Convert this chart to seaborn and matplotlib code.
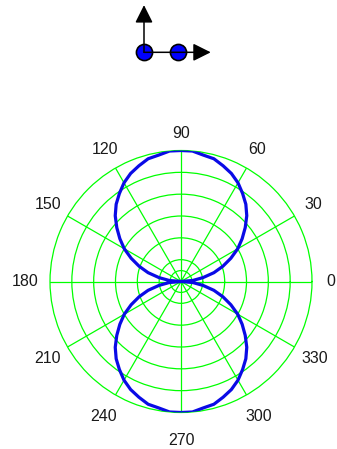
import numpy as np
import matplotlib
matplotlib.use("Agg")
import matplotlib.pyplot as plt
import seaborn as sns

# radiation pattern, read every 5 degrees
angles_deg = list(range(0, 361, 5))
radius = [0.00, 0.09, 0.17, 0.26, 0.34, 0.42, 0.50, 0.57, 0.64, 0.71, 0.77, 0.82,
          0.87, 0.91, 0.94, 0.97, 0.98, 1.00, 1.00,
          1.00, 0.98, 0.97, 0.94, 0.91, 0.87, 0.82, 0.77, 0.71, 0.64, 0.57, 0.50,
          0.42, 0.34, 0.26, 0.17, 0.09, 0.00,
          0.09, 0.17, 0.26, 0.34, 0.42, 0.50, 0.57, 0.64, 0.71, 0.77, 0.82, 0.87,
          0.91, 0.94, 0.97, 0.98, 1.00, 1.00,
          1.00, 0.98, 0.97, 0.94, 0.91, 0.87, 0.82, 0.77, 0.71, 0.64, 0.57, 0.50,
          0.42, 0.34, 0.26, 0.17, 0.09, 0.00]

label_angles = [0, 30, 60, 90, 120, 150, 180, 210, 240, 270, 300, 330]
label_texts = ["0", "30", "60", "90", "120", "150", "180", "210", "240", "270", "300", "330"]
label_radius = [1.145, 1.17, 1.16, 1.13, 1.16, 1.17, 1.19, 1.18, 1.19, 1.21, 1.19, 1.18]
ring_radii = [1 / 12, 1 / 6, 2 / 6, 3 / 6, 4 / 6, 5 / 6]

# dipole sketch above the plot
charge_x = [0, 1]
charge_y = [0, 0]
arrow_tips_x = [0, 1.98]
arrow_tips_y = [1.40, 0]

GREEN = "#00ff00"
BLUE = "#0a0ae6"


def main():
    sns.set_theme(style="white")
    plt.rcParams["font.family"] = ["Liberation Sans", "DejaVu Sans"]

    fig = plt.figure(figsize=(3.37, 4.49), dpi=100)

    # polar pattern
    ax = fig.add_axes([0.1484, 0.0813, 0.7774, 0.5835], projection="polar")
    theta = np.deg2rad(angles_deg)
    sns.lineplot(x=theta, y=radius, sort=False, estimator=None, color=BLUE,
                 linewidth=2.3, ax=ax, zorder=3)
    ax.set_ylim(0, 1)
    ax.set_xticks(np.deg2rad(label_angles))
    ax.set_xticklabels([])
    ax.set_yticks(ring_radii)
    ax.set_yticklabels([])
    ax.set_xlabel("")
    ax.set_ylabel("")
    ax.tick_params(length=0)
    ax.grid(True, color=GREEN, linewidth=0.9)
    ax.spines["polar"].set_color(GREEN)
    ax.spines["polar"].set_linewidth(0.9)
    for a, t, r in zip(label_angles, label_texts, label_radius):
        ax.text(np.deg2rad(a), r, t, ha="center", va="center",
                fontsize=11.5, color="#1a1a1a", clip_on=False)

    # dipole sketch
    ax2 = fig.add_axes([120 / 337, 1 - 70 / 449, 100 / 337, 70 / 449])
    ax2.set_xlim(-0.712, 2.255)
    ax2.set_ylim(-0.525, 1.552)
    ax2.axis("off")
    sns.scatterplot(x=charge_x, y=charge_y, s=135, color="#0000ff",
                    edgecolor="black", linewidth=1.2, ax=ax2, zorder=2)
    for tx, ty in zip(arrow_tips_x, arrow_tips_y):
        ax2.annotate("", xy=(tx, ty), xytext=(charge_x[0], charge_y[0]),
                     arrowprops=dict(arrowstyle="-|>,head_length=0.9,head_width=0.45",
                                     color="black", linewidth=1.1,
                                     shrinkA=0, shrinkB=0), zorder=3)

    fig.savefig("out.png", dpi=100)


if __name__ == '__main__':
    main()
